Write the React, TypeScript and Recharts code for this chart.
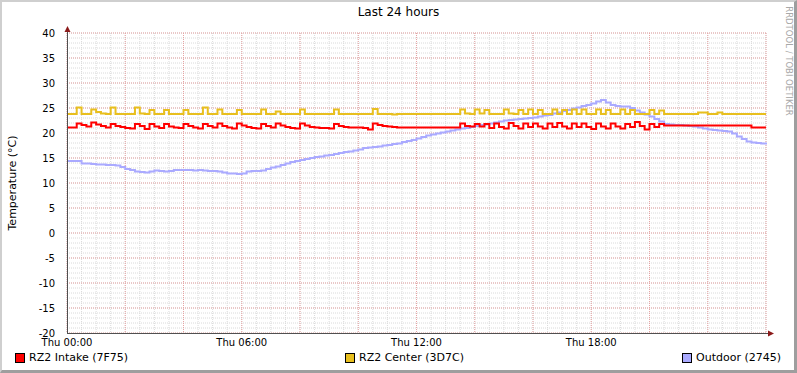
import React from 'react';
import { LineChart, Line, XAxis, YAxis, CartesianGrid } from 'recharts';

// one sample every 10 minutes, Thu 00:00 .. Fri 00:00
const STEP_MINUTES = 10;

const X_TICKS = [0, 360, 720, 1080];
const X_TICK_LABELS = ['Thu 00:00', 'Thu 06:00', 'Thu 12:00', 'Thu 18:00'];
const Y_TICKS = [-20, -15, -10, -5, 0, 5, 10, 15, 20, 25, 30, 35, 40];

const SERIES_NAMES = ['RZ2 Intake (7F75)', 'RZ2 Center (3D7C)', 'Outdoor (2745)'];

// RZ2 Intake (7F75)
const INTAKE = [
  21.1, 21.1, 21.9, 21.6, 21.3, 22.1, 21.7, 21.4, 21.1, 21.8, 21.4, 21.2,
  21.0, 20.9, 21.8, 21.4, 20.8, 21.8, 21.3, 21.0, 21.8, 21.3, 21.1, 21.0,
  21.8, 21.4, 21.1, 20.9, 21.8, 21.4, 21.1, 21.9, 21.4, 21.1, 20.9, 21.9,
  21.5, 21.2, 21.0, 20.9, 21.8, 21.4, 21.1, 21.9, 21.5, 21.2, 21.0, 20.9,
  21.9, 21.5, 21.2, 21.1, 21.0, 21.0, 20.9, 21.8, 21.4, 21.2, 21.1, 21.1,
  21.1, 21.0, 20.7, 21.9, 21.6, 21.4, 21.3, 21.2, 21.1, 21.1, 21.1, 21.1,
  21.1, 21.1, 21.1, 21.1, 21.1, 21.1, 21.1, 21.1, 21.1, 21.9, 21.4, 21.3,
  21.8, 21.3, 21.8, 21.0, 21.9, 21.2, 20.9, 22.0, 21.4, 20.9, 21.9, 21.2,
  21.9, 21.3, 20.9, 21.9, 21.2, 22.0, 21.3, 20.9, 21.9, 21.2, 21.9, 21.2,
  20.8, 21.9, 21.3, 20.9, 21.9, 21.3, 20.9, 21.8, 21.2, 22.2, 21.4, 20.7,
  21.8, 21.2, 21.8, 21.5, 21.5, 21.5, 21.5, 21.5, 21.5, 21.5, 21.5, 21.5,
  21.5, 21.5, 21.5, 21.5, 21.5, 21.5, 21.5, 21.5, 21.5, 21.1, 21.1, 21.1,
  21.1,
];

// RZ2 Center (3D7C)
const CENTER = [
  23.8, 23.8, 25.1, 23.8, 23.8, 24.7, 24.2, 23.9, 23.8, 25.1, 23.8, 23.8,
  23.8, 23.8, 25.1, 23.9, 23.8, 24.6, 23.8, 23.8, 24.6, 23.8, 23.8, 23.8,
  24.6, 23.8, 23.8, 23.8, 25.1, 23.8, 23.8, 24.7, 23.8, 23.8, 23.8, 24.6,
  23.8, 23.8, 23.8, 23.8, 24.7, 23.8, 23.8, 24.3, 23.8, 23.8, 23.8, 23.8,
  24.7, 23.8, 23.8, 23.8, 23.8, 23.8, 23.8, 24.7, 23.8, 23.8, 23.8, 23.8,
  23.8, 23.8, 23.8, 24.8, 23.8, 23.8, 23.8, 23.7, 23.8, 23.8, 23.8, 23.8,
  23.8, 23.8, 23.8, 23.8, 23.8, 23.8, 23.8, 23.8, 23.8, 24.7, 23.9, 23.8,
  24.7, 23.9, 24.6, 23.8, 23.8, 23.8, 24.7, 23.9, 23.8, 24.6, 23.8, 24.7,
  23.8, 24.6, 23.8, 23.8, 24.7, 23.8, 24.6, 23.8, 24.7, 23.8, 24.7, 23.8,
  23.8, 24.7, 23.8, 24.6, 23.8, 23.8, 24.7, 23.8, 24.6, 23.8, 23.8, 23.8,
  24.6, 23.8, 24.5, 23.8, 23.8, 23.8, 23.8, 23.8, 23.8, 23.8, 24.1, 24.1,
  23.8, 23.8, 24.1, 23.8, 23.8, 23.8, 23.8, 23.8, 23.8, 23.8, 23.8, 23.8,
  23.8,
];

// Outdoor (2745)
const OUTDOOR = [
  14.4, 14.4, 14.4, 13.9, 13.9, 13.8, 13.7, 13.7, 13.6, 13.6, 13.5, 13.2,
  12.8, 12.6, 12.3, 12.2, 12.1, 12.3, 12.5, 12.4, 12.3, 12.4, 12.6, 12.6,
  12.6, 12.6, 12.5, 12.6, 12.5, 12.4, 12.4, 12.3, 12.1, 11.9, 11.9, 11.8,
  11.9, 12.3, 12.4, 12.4, 12.5, 12.8, 13.1, 13.3, 13.6, 13.9, 14.2, 14.4,
  14.6, 14.8, 15.0, 15.2, 15.3, 15.5, 15.6, 15.8, 16.0, 16.2, 16.3, 16.5,
  16.7, 17.0, 17.1, 17.2, 17.3, 17.5, 17.6, 17.8, 17.9, 18.2, 18.4, 18.6,
  18.9, 19.2, 19.5, 19.7, 19.9, 20.1, 20.3, 20.5, 20.7, 20.9, 21.0, 21.2,
  21.4, 21.6, 21.7, 21.9, 22.1, 22.3, 22.5, 22.6, 22.7, 22.8, 22.9, 23.0,
  23.1, 23.3, 23.5, 23.6, 23.9, 24.1, 24.4, 24.6, 24.9, 25.1, 25.4, 25.6,
  25.9, 26.3, 26.6, 26.1, 25.6, 25.4, 25.3, 25.3, 25.0, 24.5, 24.1, 23.7,
  23.3, 22.8, 22.3, 21.8, 21.7, 21.6, 21.6, 21.5, 21.4, 21.3, 21.1, 20.9,
  20.7, 20.6, 20.5, 20.4, 20.3, 19.9, 19.3, 18.8, 18.3, 18.1, 18.0, 17.9,
  17.7,
];

const COLORS = ['#FF0000', '#E8BF1E', '#AAAAFF'];

const data = INTAKE.map((v, i) => ({
  t: i * STEP_MINUTES,
  intake: v,
  center: CENTER[i],
  outdoor: OUTDOOR[i],
}));

const W = 797;
const H = 373;
const PLOT_LEFT = 67;
const PLOT_RIGHT = 766;
const PLOT_TOP = 33;
const PLOT_BOTTOM = 333;

// grid: minor every 1 degC / 30 min, major every 5 degC / 2 h
const minorY = Array.from({ length: 61 }, (_, i) => -20 + i);
const minorX = Array.from({ length: 49 }, (_, i) => i * 30);
const majorX = Array.from({ length: 13 }, (_, i) => i * 120);

const font = "'DejaVu Sans', sans-serif";
const AXIS = '#505050';
const ARROW = '#8b1a1a';

export default function App() {
  return (
    <div
      style={{
        position: 'fixed',
        left: 0,
        top: 0,
        width: W,
        height: H,
        background: '#fff',
        fontFamily: font,
        overflow: 'hidden',
      }}
    >
      <LineChart
        width={W}
        height={H}
        data={data}
        margin={{ top: PLOT_TOP, right: W - PLOT_RIGHT, bottom: 20, left: 0 }}
      >
        <CartesianGrid
          horizontalValues={minorY}
          verticalValues={minorX}
          stroke="#dadada"
          strokeDasharray="1 1"
        />
        <CartesianGrid
          horizontalValues={Y_TICKS}
          verticalValues={majorX}
          stroke="#e6a3a3"
          strokeDasharray="1 1"
        />
        <XAxis
          type="number"
          dataKey="t"
          domain={[0, 1440]}
          ticks={X_TICKS}
          interval={0}
          tickFormatter={(v: number) => X_TICK_LABELS[X_TICKS.indexOf(v)] ?? ''}
          axisLine={false}
          tickLine={false}
          tickMargin={0}
          height={20}
          tick={{ fontSize: 10, fill: '#000', fontFamily: font }}
        />
        <YAxis
          type="number"
          domain={[-20, 40]}
          ticks={Y_TICKS}
          interval={0}
          width={PLOT_LEFT}
          axisLine={false}
          tickLine={false}
          tickMargin={6}
          tick={{ fontSize: 10, fill: '#000', fontFamily: font }}
        />
        <Line
          type="stepAfter"
          dataKey="outdoor"
          stroke={COLORS[2]}
          strokeWidth={2}
          dot={false}
          isAnimationActive={false}
        />
        <Line
          type="stepAfter"
          dataKey="center"
          stroke={COLORS[1]}
          strokeWidth={2}
          dot={false}
          isAnimationActive={false}
        />
        <Line
          type="stepAfter"
          dataKey="intake"
          stroke={COLORS[0]}
          strokeWidth={2}
          dot={false}
          isAnimationActive={false}
        />
      </LineChart>

      {/* axes with arrow heads, rrdtool style */}
      <svg
        width={W}
        height={H}
        style={{ position: 'absolute', left: 0, top: 0, pointerEvents: 'none' }}
      >
        <line x1={PLOT_LEFT + 0.5} y1={PLOT_BOTTOM + 0.5} x2={PLOT_LEFT + 0.5} y2={PLOT_TOP - 4} stroke={AXIS} />
        <line x1={PLOT_LEFT} y1={PLOT_BOTTOM + 0.5} x2={PLOT_RIGHT + 4} y2={PLOT_BOTTOM + 0.5} stroke={AXIS} />
        <polygon
          points={`${PLOT_LEFT + 0.5},${PLOT_TOP - 7} ${PLOT_LEFT - 2.5},${PLOT_TOP - 1} ${PLOT_LEFT + 3.5},${PLOT_TOP - 1}`}
          fill={ARROW}
        />
        <polygon
          points={`${PLOT_RIGHT + 8},${PLOT_BOTTOM + 0.5} ${PLOT_RIGHT + 2},${PLOT_BOTTOM - 2.5} ${PLOT_RIGHT + 2},${PLOT_BOTTOM + 3.5}`}
          fill={ARROW}
        />
      </svg>

      <div
        style={{
          position: 'absolute',
          top: 5,
          left: 0,
          width: W,
          textAlign: 'center',
          fontSize: 12,
          color: '#000',
        }}
      >
        Last 24 hours
      </div>

      <div
        style={{
          position: 'absolute',
          left: 12,
          top: 183,
          transform: 'translate(-50%, -50%) rotate(-90deg)',
          whiteSpace: 'nowrap',
          fontSize: 11,
          color: '#000',
        }}
      >
        Temperature (°C)
      </div>

      <div
        style={{
          position: 'absolute',
          left: 789,
          top: 61,
          transform: 'translate(-50%, -50%) rotate(90deg)',
          whiteSpace: 'nowrap',
          fontSize: 8.5,
          color: '#a8a8a8',
        }}
      >
        RRDTOOL / TOBI OETIKER
      </div>

      {/* legend */}
      {SERIES_NAMES.map((name, i) => (
        <div
          key={name}
          style={{
            position: 'absolute',
            left: [15, 345, 682][i],
            top: 351,
            display: 'flex',
            alignItems: 'center',
            fontSize: 11,
            color: '#000',
            whiteSpace: 'nowrap',
          }}
        >
          <span
            style={{
              display: 'inline-block',
              width: 8,
              height: 8,
              border: '1px solid #000',
              background: COLORS[i],
              marginRight: 4,
            }}
          />
          {name}
        </div>
      ))}

      {/* image frame shade */}
      <div
        style={{
          position: 'absolute',
          left: 0,
          top: 0,
          width: W,
          height: H,
          boxSizing: 'border-box',
          borderTop: '2px solid #cfcfcf',
          borderLeft: '2px solid #cfcfcf',
          borderRight: '3px solid #9e9e9e',
          borderBottom: '3px solid #9e9e9e',
          pointerEvents: 'none',
        }}
      />
    </div>
  );
}
